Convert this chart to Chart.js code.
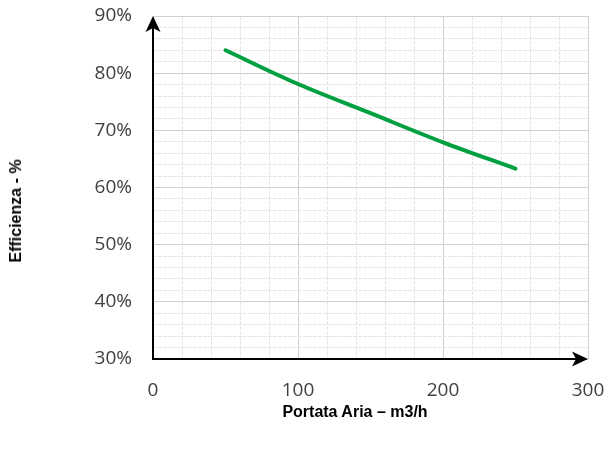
<!DOCTYPE html>
<html>
<head>
<meta charset="utf-8">
<script src="https://cdn.jsdelivr.net/npm/chart.js@4"></script>
<style>
  html, body { margin: 0; padding: 0; background: #fff; }
  #wrap { position: relative; width: 609px; height: 454px; }
  .axis-title {
    position: absolute;
    font: bold 16px "Liberation Sans", Arial, sans-serif;
    color: #000;
    white-space: nowrap;
  }
  #xTitle { left: 355px; top: 412px; transform: translate(-50%, -50%); }
  #yTitle { left: 16px; top: 211px; transform: translate(-50%, -50%) rotate(-90deg); }
</style>
</head>
<body>
<div id="wrap">
  <canvas id="chart" width="609" height="454"></canvas>
  <div class="axis-title" id="xTitle">Portata Aria – m3/h</div>
  <div class="axis-title" id="yTitle">Efficienza - %</div>
</div>
<script>
// --- data ---
const flowRates = [50, 100, 150, 200, 250];          // m3/h
const efficiency = [84.0, 78.1, 73.0, 67.9, 63.3];   // %
const xLabels = [0, 100, 200, 300];
const yLabels = [30, 40, 50, 60, 70, 80, 90];

const MAJOR = "#d0d0d0";
const MINOR = "#e6e6e6";

// black axes with arrow heads (Excel style)
const axisArrows = {
  id: "axisArrows",
  afterDraw(chart) {
    const { ctx, chartArea: a } = chart;
    ctx.save();
    ctx.strokeStyle = "#000";
    ctx.fillStyle = "#000";
    ctx.lineWidth = 2;
    ctx.beginPath();
    ctx.moveTo(a.left, a.bottom);
    ctx.lineTo(a.left, a.top + 10);
    ctx.moveTo(a.left - 1, a.bottom);
    ctx.lineTo(a.right - 10, a.bottom);
    ctx.stroke();

    // up arrow
    ctx.beginPath();
    ctx.moveTo(a.left, a.top);
    ctx.lineTo(a.left - 7.5, a.top + 16);
    ctx.lineTo(a.left, a.top + 12);
    ctx.lineTo(a.left + 7.5, a.top + 16);
    ctx.closePath();
    ctx.fill();

    // right arrow
    ctx.beginPath();
    ctx.moveTo(a.right, a.bottom);
    ctx.lineTo(a.right - 16, a.bottom - 7.5);
    ctx.lineTo(a.right - 12, a.bottom);
    ctx.lineTo(a.right - 16, a.bottom + 7.5);
    ctx.closePath();
    ctx.fill();
    ctx.restore();
  }
};

const tickFont = { family: "'Open Sans', sans-serif", size: 19 };

new Chart(document.getElementById("chart"), {
  type: "line",
  data: {
    datasets: [{
      data: flowRates.map((x, i) => ({ x, y: efficiency[i] })),
      borderColor: "#00a040",
      borderWidth: 4,
      borderCapStyle: "round",
      pointRadius: 0,
      cubicInterpolationMode: "monotone",
      fill: false
    }]
  },
  options: {
    responsive: false,
    animation: false,
    layout: { padding: { left: 0, top: 16, right: 21, bottom: 0 } },
    plugins: { legend: { display: false }, tooltip: { enabled: false } },
    scales: {
      x: {
        type: "linear",
        min: 0,
        max: 300,
        afterFit: s => {
          s.height = 95;
          s.paddingLeft = 0;
          s.paddingRight = 0;
        },
        ticks: {
          stepSize: 20,
          autoSkip: false,
          maxRotation: 0,
          padding: 20,
          color: "#404040",
          font: tickFont,
          callback: v => xLabels.includes(v) ? String(v) : ""
        },
        grid: {
          drawTicks: false,
          lineWidth: 1,
          color: c => (c.tick && c.tick.value % 100 === 0) ? MAJOR : MINOR
        },
        border: {
          display: false,
          dash: c => (c.tick && c.tick.value % 100 === 0) ? [] : [4, 1]
        }
      },
      y: {
        min: 30,
        max: 90,
        afterFit: s => {
          s.width = 153;
          s.paddingTop = 0;
          s.paddingBottom = 0;
        },
        ticks: {
          stepSize: 2,
          autoSkip: false,
          padding: 21,
          color: "#404040",
          font: tickFont,
          callback: v => yLabels.includes(v) ? v + "%" : ""
        },
        grid: {
          drawTicks: false,
          lineWidth: 1,
          color: c => (c.tick && c.tick.value % 10 === 0) ? MAJOR : MINOR
        },
        border: {
          display: false,
          dash: c => (c.tick && c.tick.value % 10 === 0) ? [] : [4, 1]
        }
      }
    }
  },
  plugins: [axisArrows]
});
</script>
</body>
</html>
